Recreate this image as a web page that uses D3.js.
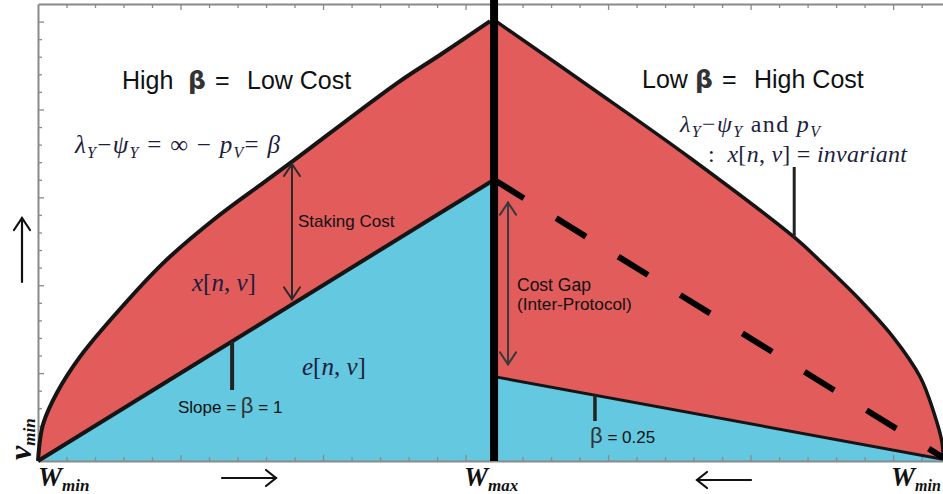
<!DOCTYPE html>
<html><head><meta charset="utf-8">
<script src="https://cdn.jsdelivr.net/npm/d3@7"></script>
<style>body{margin:0;background:#fff}svg{display:block}text{white-space:pre}</style>
</head><body><svg id="c" width="943" height="494"></svg>
<script>
// ---- data (axis units: x = W ticks, y = v ticks) ----
const leftOuterX = [0, 0.07, 0.19, 0.66, 1.47, 2.63, 4.39, 6.28, 7.89, 8.95, 12.6, 14.1, 15.86];
const leftOuterY = [0, 1.19, 2.16, 3.87, 5.92, 8.19, 11.26, 13.88, 15.81, 17.07, 21.5, 23.1, 25.03];
const leftInnerX = [0, 16];
const leftInnerY = [0, 16];
const rightOuterX = [16.1, 19.37, 22.88, 26.56, 27.44, 28.84, 30.0, 30.95, 31.4, 31.72, 31.75];
const rightOuterY = [24.98, 21.28, 17.24, 12.69, 11.38, 9.16, 7.05, 4.78, 2.9, 1.02, 0.17];
const rightDashedX = [16, 31.75];
const rightDashedY = [16, 0.2];
const rightLowerX = [16, 31.75];
const rightLowerY = [4.8, 0.1];
const xTicks = d3.range(0, 32);
const yTicks = d3.range(0, 27);
const wMax = 16;

const svg = d3.select("#c");
const x = d3.scaleLinear().domain([0, 31.75]).range([38, 943]);
const y = d3.scaleLinear().domain([0, 26]).range([461, 4]);
const zip = (a, b) => a.map((v, i) => [v, b[i]]);
const outerL = zip(leftOuterX, leftOuterY), innerL = zip(leftInnerX, leftInnerY);
const outerR = zip(rightOuterX, rightOuterY), dashR = zip(rightDashedX, rightDashedY), lowR = zip(rightLowerX, rightLowerY);
const curve = d3.line().x(d => x(d[0])).y(d => y(d[1])).curve(d3.curveCatmullRom.alpha(0.5));
const straight = d3.line().x(d => x(d[0])).y(d => y(d[1]));
const under = d3.area().x(d => x(d[0])).y0(y(0)).y1(d => y(d[1]));
const RED = "#e25c5c", BLUE = "#63c8e0";

// fills
svg.append("path").attr("d", under(innerL)).attr("fill", BLUE);
svg.append("path").attr("fill", RED)
  .attr("d", curve(outerL) + "L" + x(wMax) + "," + y(leftOuterY[leftOuterY.length-1]) +
    "L" + x(innerL[1][0]) + "," + y(innerL[1][1]) + "L" + x(innerL[0][0]) + "," + y(innerL[0][1]) + "Z");
svg.append("path").attr("d", under(lowR)).attr("fill", BLUE);
svg.append("path").attr("fill", RED)
  .attr("d", curve(outerR) + "L" + x(lowR[1][0]) + "," + y(lowR[1][1]) + "L" + x(lowR[0][0]) + "," + y(lowR[0][1]) +
    "L" + x(wMax) + "," + y(rightOuterY[0]) + "Z");

// frame axes
function styleAxis(g) {
  g.select(".domain").attr("stroke", "#8a8a8a").attr("stroke-width", 2);
  g.selectAll(".tick line").attr("stroke", "#8a8a8a").attr("stroke-width", 1.3);
  g.selectAll(".tick text").remove();
}
const gb = svg.append("g").attr("transform", `translate(0,${y(0)})`)
  .call(d3.axisBottom(x).tickValues(xTicks.slice(1)).tickSize(-4).tickSizeOuter(0).tickFormat(""));
styleAxis(gb);
gb.selectAll(".tick line").filter(d => d % 5 === 0).attr("y2", -6);
const gt = svg.append("g").attr("transform", `translate(0,${y(26)})`)
  .call(d3.axisTop(x).tickValues(xTicks.slice(1)).tickSize(-4).tickSizeOuter(0).tickFormat(""));
styleAxis(gt);
gt.selectAll(".tick line").filter(d => d % 5 === 0).attr("y2", 6);
const gl = svg.append("g").attr("transform", `translate(${x(0)},0)`)
  .call(d3.axisLeft(y).tickValues(yTicks.slice(1, 26)).tickSize(-4).tickSizeOuter(0).tickFormat(""));
styleAxis(gl);
gl.selectAll(".tick line").filter(d => d % 5 === 0).attr("x2", 6);

// curves
svg.append("path").attr("d", curve(outerL)).attr("fill", "none").attr("stroke", "#151515").attr("stroke-width", 4).attr("stroke-linejoin", "round");
svg.append("path").attr("d", straight(innerL)).attr("fill", "none").attr("stroke", "#151515").attr("stroke-width", 4);
svg.append("path").attr("d", curve(outerR)).attr("fill", "none").attr("stroke", "#151515").attr("stroke-width", 3.5).attr("stroke-linejoin", "round");
svg.append("path").attr("d", straight(lowR)).attr("fill", "none").attr("stroke", "#151515").attr("stroke-width", 3);
svg.append("path").attr("d", straight(dashR)).attr("fill", "none").attr("stroke", "#000").attr("stroke-width", 6).attr("stroke-dasharray", "35,38");
// Wmax divider
svg.append("line").attr("x1", x(wMax)).attr("x2", x(wMax)).attr("y1", y(26.25)).attr("y2", y(0)).attr("stroke", "#000").attr("stroke-width", 8);

// arrows
function arrow(x1, y1, x2, y2, both, color, w, hl, hw) {
  const g = svg.append("g").attr("stroke", color).attr("stroke-width", w).attr("fill", "none").attr("stroke-linecap", "round");
  g.append("line").attr("x1", x1).attr("y1", y1).attr("x2", x2).attr("y2", y2);
  const head = (tx, ty, fx, fy) => {
    const dx = tx - fx, dy = ty - fy, L = Math.hypot(dx, dy), ux = dx / L, uy = dy / L;
    g.append("polyline").attr("points",
      [[tx - ux*hl - uy*hw, ty - uy*hl + ux*hw], [tx, ty], [tx - ux*hl + uy*hw, ty - uy*hl - ux*hw]].map(p => p.join(",")).join(" "))
      .attr("stroke-linejoin", "miter");
  };
  head(x2, y2, x1, y1);
  if (both) head(x1, y1, x2, y2);
}
arrow(x(8.91), y(16.9), x(8.91), y(9.2), true, "#2a2a2a", 2, 12, 8);
arrow(x(16.49), y(14.7), x(16.49), y(5.5), true, "#3a3a3a", 2, 12, 8);
arrow(22, 282, 22, 218, false, "#111", 2.2, 12, 8);
arrow(222, 478, 276, 478, false, "#111", 2.2, 10, 8);
arrow(751, 480, 697, 480, false, "#111", 2.2, 10, 8);

// pointer lines
function pointer(px, y1, y2, w) {
  svg.append("line").attr("x1", px).attr("x2", px).attr("y1", y1).attr("y2", y2).attr("stroke", "#222").attr("stroke-width", w);
}
pointer(x(6.81), y(6.81), 390, 4);
pointer(x(19.54), y(3.76), 421, 3.5);
pointer(x(26.53), 167, y(12.7), 3);

// rich text helper
function rich(px, py, segs, size, family, fill) {
  const t = svg.append("text").attr("x", px).attr("y", py).attr("font-family", family).attr("font-size", size).attr("fill", fill);
  let cur = 0;
  segs.forEach(s => {
    const off = s.sub || 0;
    const ts = t.append("tspan").attr("dy", off - cur).text(s.t);
    cur = off;
    if (s.i) ts.attr("font-style", "italic");
    if (s.b) ts.attr("font-weight", "bold");
    if (s.fs) ts.attr("font-size", s.fs);
    if (s.f) ts.attr("font-family", s.f);
    if (s.c) ts.attr("fill", s.c);
  });
  return t;
}
const SANS = "Liberation Sans, Arial, sans-serif", SERIF = "Liberation Serif, Times New Roman, serif";
const MATH = "#1e1e3c";

// headers
rich(122, 89, [{t: "High"}], 25, SANS, "#111");
rich(188, 89, [{t: "β"}], 25, "DejaVu Sans", "#333").attr("font-weight", "bold");
rich(215, 89, [{t: "="}], 25, SANS, "#111");
rich(247, 89, [{t: "Low Cost"}], 25, SANS, "#111");
rich(642, 88, [{t: "Low"}], 25, SANS, "#111");
rich(695, 88, [{t: "β"}], 25, "DejaVu Sans", "#333").attr("font-weight", "bold");
rich(722, 88, [{t: "="}], 25, SANS, "#111");
rich(754, 88, [{t: "High Cost"}], 25, SANS, "#111");

rich(75, 153, [{t: "λ", i: 1}, {t: "Y", i: 1, sub: 5, fs: 16}, {t: "−"}, {t: "ψ", i: 1}, {t: "Y", i: 1, sub: 5, fs: 16},
  {t: " = ∞ − "}, {t: "p", i: 1}, {t: "V", i: 1, sub: 5, fs: 16}, {t: "= "}, {t: "β", i: 1}], 25, SERIF, MATH)
  .attr("textLength", 205).attr("lengthAdjust", "spacing");
rich(680, 132, [{t: "λ", i: 1}, {t: "Y", i: 1, sub: 5, fs: 16}, {t: "−"}, {t: "ψ", i: 1}, {t: "Y", i: 1, sub: 5, fs: 16},
  {t: " and "}, {t: "p", i: 1}, {t: "V", i: 1, sub: 5, fs: 16}], 24, SERIF, MATH)
  .attr("textLength", 140).attr("lengthAdjust", "spacing");
rich(708, 162, [{t: ":  "}, {t: "x", i: 1}, {t: "["}, {t: "n", i: 1}, {t: ", "}, {t: "v", i: 1}, {t: "] = "}, {t: "invariant", i: 1}], 24, SERIF, MATH)
  .attr("textLength", 199).attr("lengthAdjust", "spacing");

rich(192, 291, [{t: "x", i: 1}, {t: "["}, {t: "n", i: 1}, {t: ", "}, {t: "v", i: 1}, {t: "]"}], 25, SERIF, MATH);
rich(302, 375, [{t: "e", i: 1}, {t: "["}, {t: "n", i: 1}, {t: ", "}, {t: "v", i: 1}, {t: "]"}], 25, SERIF, MATH);

rich(298, 227, [{t: "Staking Cost"}], 17, SANS, "#111");
rich(517, 291, [{t: "Cost Gap"}], 17.5, SANS, "#111");
rich(517, 310, [{t: "(Inter-Protocol)"}], 17.2, SANS, "#111");
rich(178, 413, [{t: "Slope = "}, {t: "β", fs: 22, c: "#333"}, {t: " = 1"}], 17, SANS, "#111");
rich(590, 443, [{t: "β", fs: 22, c: "#333"}, {t: " = 0.25"}], 17, SANS, "#111");

// axis end labels
rich(38, 486, [{t: "W", fs: 27}, {t: "min", sub: 5, fs: 17}], 27, SERIF, "#111").attr("font-style", "italic").attr("font-weight", "bold");
rich(464, 486, [{t: "W", fs: 27}, {t: "max", sub: 5, fs: 17}], 27, SERIF, "#111").attr("font-style", "italic").attr("font-weight", "bold");
rich(891, 486, [{t: "W", fs: 27}, {t: "min", sub: 5, fs: 16}], 27, SERIF, "#111").attr("font-style", "italic").attr("font-weight", "bold");
rich(0, 0, [{t: "v", fs: 32}, {t: "min", sub: 4, fs: 17}], 32, SERIF, "#111")
  .attr("font-style", "italic").attr("font-weight", "bold")
  .attr("transform", "translate(31,460) rotate(-90)");
</script></body></html>
